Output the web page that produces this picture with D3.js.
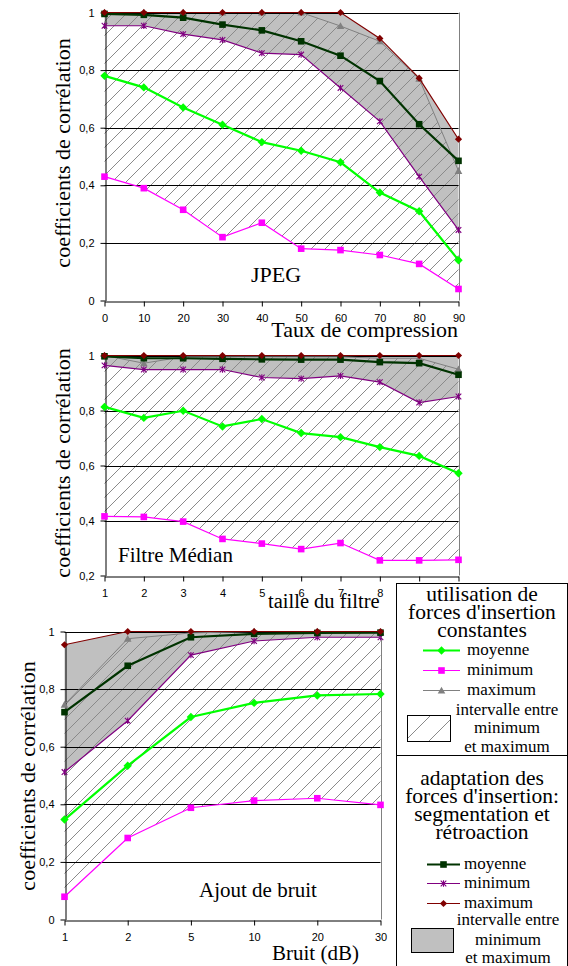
<!DOCTYPE html>
<html><head><meta charset="utf-8">
<script src="https://cdn.jsdelivr.net/npm/d3@7"></script>
<style>html,body{margin:0;padding:0;background:#fff;}svg{display:block;}</style>
</head><body>
<svg id="c" width="568" height="966"></svg>
<script>
// ---------- DATA ----------
const jpegX = [0, 10, 20, 30, 40, 50, 60, 70, 80, 90];
const jpegConstMean = [0.78, 0.74, 0.67, 0.61, 0.55, 0.52, 0.48, 0.375, 0.31, 0.14];
const jpegConstMin  = [0.43, 0.39, 0.315, 0.22, 0.27, 0.18, 0.175, 0.158, 0.127, 0.04];
const jpegConstMax  = [1, 1, 1, 1, 1, 1, 0.953, 0.9, 0.77, 0.45];
const jpegAdaptMean = [0.995, 0.992, 0.982, 0.958, 0.938, 0.9, 0.85, 0.762, 0.612, 0.485];
const jpegAdaptMin  = [0.954, 0.954, 0.925, 0.905, 0.859, 0.854, 0.738, 0.622, 0.43, 0.245];
const jpegAdaptMax  = [1, 1, 1, 1, 1, 1, 1, 0.91, 0.772, 0.56];

const medX = [1, 2, 3, 4, 5, 6, 7, 8, 9, 10];
const medConstMean = [0.813, 0.773, 0.799, 0.742, 0.769, 0.718, 0.703, 0.667, 0.635, 0.572];
const medConstMin  = [0.415, 0.413, 0.396, 0.333, 0.316, 0.296, 0.318, 0.255, 0.255, 0.257];
const medConstMax  = [1, 0.972, 0.995, 0.995, 0.995, 0.995, 0.995, 0.99, 0.99, 0.95];
const medAdaptMean = [0.997, 0.99, 0.99, 0.988, 0.986, 0.985, 0.985, 0.976, 0.972, 0.93];
const medAdaptMin  = [0.964, 0.949, 0.949, 0.949, 0.92, 0.916, 0.926, 0.903, 0.829, 0.851];
const medAdaptMax  = [1, 1, 1, 1, 1, 1, 1, 1, 1, 1];

const noiseX = [1, 2, 5, 10, 20, 30];
const noiseConstMean = [0.347, 0.534, 0.703, 0.752, 0.778, 0.783];
const noiseConstMin  = [0.079, 0.283, 0.388, 0.413, 0.421, 0.398];
const noiseConstMax  = [0.746, 0.975, 0.995, 1, 1, 0.997];
const noiseAdaptMean = [0.72, 0.881, 0.98, 0.992, 0.995, 0.996];
const noiseAdaptMin  = [0.512, 0.69, 0.918, 0.967, 0.98, 0.98];
const noiseAdaptMax  = [0.954, 1, 1, 1, 1, 1];

const yTicksFull = [0, 0.2, 0.4, 0.6, 0.8, 1];
const yTicksMed = [0.2, 0.4, 0.6, 0.8, 1];

const legendConstTitle = ["utilisation de", "forces d'insertion", "constantes"];
const legendAdaptTitle = ["adaptation des", "forces d'insertion:", "segmentation et", "rétroaction"];
const legendItems = ["moyenne", "minimum", "maximum"];
const legendInterval = ["intervalle entre", "minimum", "et maximum"];

// ---------- STYLE ----------
const C = {
  cMean: "#00ff00", cMin: "#ff00ff", cMax: "#808080",
  aMean: "#003300", aMin: "#800080", aMax: "#800000",
  fill: "#c0c0c0", hatch: "#8a8a8a"
};
const SERIF = "'Liberation Serif','Times New Roman',serif";
const SANS = "'Liberation Sans',Arial,sans-serif";
const LEGEND_LEFT = 396.5;

const svg = d3.select("#c");
const defs = svg.append("defs");
const H = 14;
const pat = defs.append("pattern").attr("id", "hatch").attr("patternUnits", "userSpaceOnUse")
  .attr("width", H).attr("height", H);
pat.append("path").attr("d", `M0,${H}L${H},0M-2,2L2,-2M${H-2},${H+2}L${H+2},${H-2}`)
  .attr("stroke", C.hatch).attr("stroke-width", 1).attr("fill", "none");
const pat2 = defs.append("pattern").attr("id", "hatchL").attr("patternUnits", "userSpaceOnUse")
  .attr("x", 407).attr("y", 715).attr("width", 24).attr("height", 24);
pat2.append("path").attr("d", "M0,24L24,0M-2,2L2,-2M22,26L26,22")
  .attr("stroke", C.hatch).attr("stroke-width", 1).attr("fill", "none");

const fmt = d => d === 0 ? "0" : d === 1 ? "1" : d3.format(".1f")(d).replace(".", ",");

function marker(g, type, color, x, y) {
  const t = g.append("path").attr("transform", `translate(${x},${y})`);
  if (type === "asterisk") {
    t.attr("d", "M-2.8,-2.8L2.8,2.8M-2.8,2.8L2.8,-2.8M0,-3.2L0,3.2")
      .attr("stroke", color).attr("stroke-width", 1.1).attr("fill", "none");
  } else if (type === "diamond") {
    t.attr("d", "M0,-4.2L4.2,0L0,4.2L-4.2,0Z").attr("fill", color);
  } else if (type === "rdiamond") {
    t.attr("d", "M0,-3.6L3.6,0L0,3.6L-3.6,0Z").attr("fill", color);
  } else if (type === "square") {
    t.attr("d", "M-3.3,-3.3H3.3V3.3H-3.3Z").attr("fill", color);
  } else if (type === "triangle") {
    t.attr("d", "M0,-3.8L3.8,3L-3.8,3Z").attr("fill", color);
  }
}

function panel(p) {
  const g = svg.append("g");
  const x = d3.scalePoint().domain(p.cats).range([p.x0, p.x1]);
  const y = d3.scaleLinear().domain([p.ymin, 1]).range([p.yb, p.yt]);
  const idx = d3.range(p.cats.length);
  const X = i => x(p.cats[i]);

  g.append("path").datum(idx).attr("fill", C.fill)
    .attr("d", d3.area().x(X).y0(i => y(p.aMin[i])).y1(i => y(p.aMax[i])));
  g.append("path").datum(idx).attr("fill", "url(#hatch)")
    .attr("d", d3.area().x(X).y0(i => y(p.cMin[i])).y1(i => y(p.cMax[i])));

  g.selectAll(".grid").data(p.ticks.filter(t => t > p.ymin)).enter().append("line")
    .attr("x1", p.x0).attr("x2", p.x1)
    .attr("y1", d => Math.round(y(d)) + 0.5).attr("y2", d => Math.round(y(d)) + 0.5)
    .attr("stroke", "#000").attr("stroke-width", 1);
  g.append("line").attr("x1", Math.round(p.x1) + 0.5).attr("x2", Math.round(p.x1) + 0.5)
    .attr("y1", p.yt).attr("y2", p.yb).attr("stroke", "#808080");

  const ya = g.append("g").attr("transform", `translate(${Math.round(p.x0) + 0.5},0)`)
    .call(d3.axisLeft(y).tickValues(p.ticks).tickFormat(fmt).tickSize(5).tickSizeOuter(0).tickPadding(6));
  const xa = g.append("g").attr("transform", `translate(0,${Math.round(p.yb) + 0.5})`)
    .call(d3.axisBottom(x).tickSize(5).tickSizeOuter(0).tickPadding(8));
  [ya, xa].forEach(a => {
    a.selectAll("text").attr("font-family", SANS).attr("font-size", 11).attr("fill", "#000");
    a.select(".domain").attr("stroke", "#000");
    a.selectAll(".tick line").attr("stroke", "#000");
  });
  // tick labels lying under the legend box are not visible in the reference
  xa.selectAll(".tick").filter(d => x(d) > LEGEND_LEFT && p.yb > 560 && p.yb < 600)
    .select("text").remove();

  const series = [
    {v: p.cMax, c: C.cMax, w: 1, m: "triangle"},
    {v: p.cMin, c: C.cMin, w: 1.2, m: "square"},
    {v: p.cMean, c: C.cMean, w: 2.2, m: "diamond"},
    {v: p.aMin, c: C.aMin, w: 1.2, m: "asterisk"},
    {v: p.aMean, c: C.aMean, w: 2.2, m: "square"},
    {v: p.aMax, c: C.aMax, w: 1.2, m: "rdiamond"}
  ];
  series.forEach(s => {
    g.append("path").datum(idx).attr("fill", "none").attr("stroke", s.c).attr("stroke-width", s.w)
      .attr("d", d3.line().x(X).y(i => y(s.v[i])));
    idx.forEach(i => marker(g, s.m, s.c, X(i), y(s.v[i])));
  });

  g.append("text").attr("transform", `translate(${p.ylx},${p.yly}) rotate(-90)`)
    .attr("text-anchor", "middle").attr("font-family", SERIF).attr("font-size", 22)
    .text("coefficients de corrélation");
  g.append("text").attr("x", p.xtx).attr("y", p.xty).attr("font-family", SERIF)
    .attr("font-size", p.xtSize).attr("text-anchor", p.xtAnchor).text(p.xTitle);
  g.append("text").attr("x", p.tx).attr("y", p.ty).attr("font-family", SERIF)
    .attr("font-size", p.tSize).text(p.title);
}

panel({cats: jpegX, cMean: jpegConstMean, cMin: jpegConstMin, cMax: jpegConstMax,
  aMean: jpegAdaptMean, aMin: jpegAdaptMin, aMax: jpegAdaptMax, ticks: yTicksFull, ymin: 0,
  x0: 104.5, x1: 458.5, yt: 12.5, yb: 300.5,
  ylx: 70, yly: 153, xTitle: "Taux de compression", xtx: 458, xty: 337, xtSize: 22, xtAnchor: "end",
  title: "JPEG", tx: 251, ty: 282, tSize: 22});

panel({cats: medX, cMean: medConstMean, cMin: medConstMin, cMax: medConstMax,
  aMean: medAdaptMean, aMin: medAdaptMin, aMax: medAdaptMax, ticks: yTicksMed, ymin: 0.2,
  x0: 104.5, x1: 458.5, yt: 355.5, yb: 575.5,
  ylx: 70, yly: 463, xTitle: "taille du filtre", xtx: 268, xty: 608, xtSize: 20.5, xtAnchor: "start",
  title: "Filtre Médian", tx: 118, ty: 562, tSize: 21});

panel({cats: noiseX, cMean: noiseConstMean, cMin: noiseConstMin, cMax: noiseConstMax,
  aMean: noiseAdaptMean, aMin: noiseAdaptMin, aMax: noiseAdaptMax, ticks: yTicksFull, ymin: 0,
  x0: 64.5, x1: 380.5, yt: 631.5, yb: 919.5,
  ylx: 35, yly: 776, xTitle: "Bruit (dB)", xtx: 272, xty: 960, xtSize: 21, xtAnchor: "start",
  title: "Ajout de bruit", tx: 199, ty: 897, tSize: 21});

// ---------- LEGEND ----------
const L = svg.append("g");
L.append("rect").attr("x", LEGEND_LEFT).attr("y", 583.5).attr("width", 171).attr("height", 172)
  .attr("fill", "#fff").attr("stroke", "#000");
L.append("rect").attr("x", LEGEND_LEFT).attr("y", 755.5).attr("width", 171).attr("height", 215)
  .attr("fill", "#fff").attr("stroke", "#000");
const cx = 482;
legendConstTitle.forEach((t, i) => L.append("text").attr("x", cx).attr("y", 601 + i * 18)
  .attr("text-anchor", "middle").attr("font-family", SERIF).attr("font-size", 21.5).text(t));
legendAdaptTitle.forEach((t, i) => L.append("text").attr("x", cx).attr("y", 785 + i * 18)
  .attr("text-anchor", "middle").attr("font-family", SERIF).attr("font-size", 21.5).text(t));

const constCols = [[C.cMean, 2.2, "diamond"], [C.cMin, 1.2, "square"], [C.cMax, 1, "triangle"]];
const adaptCols = [[C.aMean, 2.2, "square"], [C.aMin, 1.2, "asterisk"], [C.aMax, 1.2, "rdiamond"]];
function legendBlock(cols, x1, x2, tx, ys) {
  legendItems.forEach((t, i) => {
    const yy = ys[i];
    L.append("line").attr("x1", x1).attr("x2", x2).attr("y1", yy).attr("y2", yy)
      .attr("stroke", cols[i][0]).attr("stroke-width", cols[i][1]);
    marker(L, cols[i][2], cols[i][0], (x1 + x2) / 2, yy);
    L.append("text").attr("x", tx).attr("y", yy + 4).attr("font-family", SERIF)
      .attr("font-size", 17).text(t);
  });
}
legendBlock(constCols, 423, 460, 467, [650.5, 670.5, 690.5]);
legendBlock(adaptCols, 427, 460, 464, [864.5, 883.5, 903.5]);

[[507, [715, 733, 752]], [508, [925, 945, 963]]].forEach(([x, ys]) => {
  legendInterval.forEach((t, i) => L.append("text").attr("x", x).attr("y", ys[i])
    .attr("text-anchor", "middle").attr("font-family", SERIF).attr("font-size", 17).text(t));
});
L.append("rect").attr("x", 407.5).attr("y", 715.5).attr("width", 43).attr("height", 26)
  .attr("fill", "url(#hatchL)").attr("stroke", "#000");
L.append("rect").attr("x", 411.5).attr("y", 928.5).attr("width", 42).attr("height", 24)
  .attr("fill", C.fill).attr("stroke", "#000");
</script>
</body></html>
